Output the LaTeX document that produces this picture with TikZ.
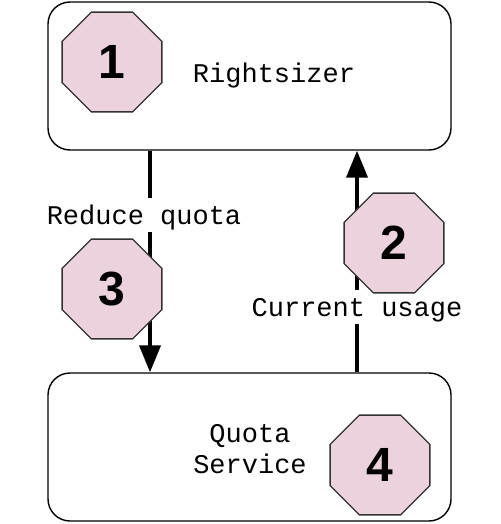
\documentclass[tikz,border=0pt]{standalone}
\usepackage{fontspec}
\setmainfont{Liberation Sans}
\newfontfamily\labfont{Liberation Mono}
\newfontfamily\numfont{Liberation Sans}
\usetikzlibrary{shapes.geometric,arrows.meta}
\definecolor{octfill}{RGB}{235,210,221}
\definecolor{octline}{RGB}{50,50,50}
\begin{document}
\begin{tikzpicture}[x=1pt,y=-1pt,
  box/.style={draw=black,line width=1.4pt,fill=white,rounded corners=22pt,
    minimum width=403pt,minimum height=148pt,inner sep=0pt},
  oct/.style={regular polygon,regular polygon sides=8,
    draw=octline,line width=1.3pt,fill=octfill,minimum size=108pt,inner sep=0pt,
    font=\numfont\fontsize{48}{48}\selectfont\bfseries},
  lab/.style={font=\labfont\fontsize{27}{31}\selectfont,align=center,inner sep=0pt},
  flowlab/.style={lab,fill=white,inner xsep=0pt,inner ysep=6pt,text height=20pt,text depth=1.5pt},
  flow/.style={line width=4pt,-{Triangle[length=27pt,width=21pt]}}
]
\useasboundingbox (0,0) rectangle (500,524);
\node[box] (top) at (249.5,76) {};
\node[box] (bot) at (249.5,447) {};
\node[lab,anchor=base] (rs) at (274,83) {Rightsizer};
\node[lab,anchor=base] (qs) at (250,473) {Quota\\Service};
\coordinate (a3) at (150,0);
\coordinate (a2) at (357,0);
\draw[flow] (a3 |- top.south) -- (a3 |- bot.north);
\draw[flow] (a2 |- bot.north) -- (a2 |- top.south);
\node[flowlab,anchor=base] (l3) at (144,224) {Reduce quota};
\node[flowlab,anchor=base] (l2) at (357,316) {Current usage};
\node[oct] (o1) at (112,62) {1};
\node[oct] (o2) at (394,243) {2};
\node[oct] (o3) at (112,289) {3};
\node[oct] (o4) at (380,465) {4};
\end{tikzpicture}
\end{document}
